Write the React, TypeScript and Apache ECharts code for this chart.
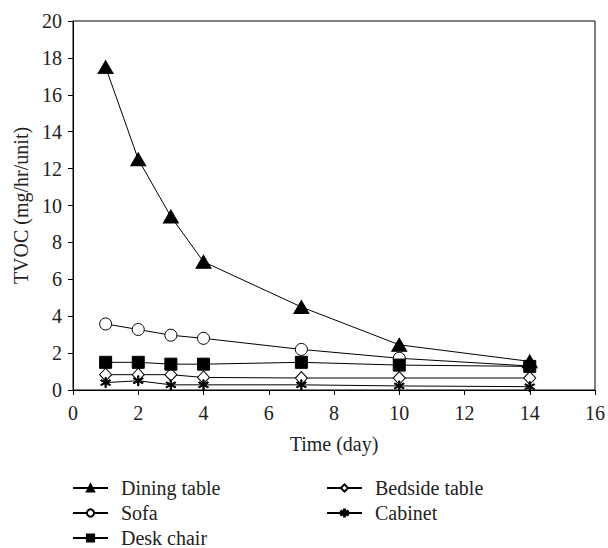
import React, { useEffect, useRef } from "react";
import * as echarts from "echarts";

const days = [1, 2, 3, 4, 7, 10, 14];
const diningTable = [17.5, 12.5, 9.4, 6.95, 4.5, 2.45, 1.55];
const sofa = [3.58, 3.28, 2.97, 2.8, 2.2, 1.72, 1.3];
const deskChair = [1.5, 1.5, 1.4, 1.4, 1.5, 1.35, 1.28];
const bedsideTable = [0.83, 0.83, 0.83, 0.68, 0.65, 0.65, 0.65];
const cabinet = [0.4, 0.5, 0.28, 0.28, 0.28, 0.22, 0.18];

const xTicks = { min: 0, max: 16, interval: 2 };
const yTicks = { min: 0, max: 20, interval: 2 };

const asterisk =
  "path://M-0.6,-5 L0.6,-5 L0.6,5 L-0.6,5 Z M-4.63,-1.98 L-4.03,-3.02 L4.63,1.98 L4.03,3.02 Z M-4.03,3.02 L-4.63,1.98 L4.03,-3.02 L4.63,-1.98 Z";

const FONT = "'Liberation Serif', 'Times New Roman', serif";

function pairs(vals: number[]) {
  return days.map((d, i) => [d, vals[i]]);
}

export default function App() {
  const ref = useRef<HTMLDivElement>(null);
  useEffect(() => {
    if (!ref.current) return;
    const chart = echarts.init(ref.current, null, { renderer: "svg" });
    const lineStyle = { color: "#000", width: 1 };
    const filled = { color: "#000", borderColor: "#000", borderWidth: 1 };
    const open = { color: "#fff", borderColor: "#000", borderWidth: 1 };
    const legendCommon = {
      orient: "vertical" as const,
      itemWidth: 35,
      itemHeight: 9,
      itemGap: 5,
      padding: 0,
      height: 80,
      textStyle: {
        fontFamily: FONT,
        fontSize: 20,
        color: "#222",
        lineHeight: 20,
        padding: [0, 0, 0, 8],
      },
    };
    chart.setOption({
      animation: false,
      backgroundColor: "#fff",
      textStyle: { fontFamily: FONT },
      grid: {
        left: 73,
        right: 10,
        top: 21,
        bottom: 158,
        show: true,
        borderColor: "#000",
        borderWidth: 1,
      },
      xAxis: {
        type: "value",
        ...xTicks,
        name: "Time (day)",
        nameLocation: "middle",
        nameGap: 44,
        nameTextStyle: { fontFamily: FONT, fontSize: 20, color: "#222" },
        axisLine: { show: true, lineStyle: { color: "#000", width: 1 } },
        axisTick: { show: true, inside: false, length: 5, lineStyle: { color: "#000" } },
        axisLabel: { fontFamily: FONT, fontSize: 20, color: "#222", margin: 13 },
        splitLine: { show: false },
      },
      yAxis: {
        type: "value",
        ...yTicks,
        name: "TVOC (mg/hr/unit)",
        nameLocation: "middle",
        nameGap: 38,
        nameTextStyle: { fontFamily: FONT, fontSize: 20, color: "#222" },
        axisLine: { show: true, lineStyle: { color: "#000", width: 1 } },
        axisTick: { show: true, inside: false, length: 5, lineStyle: { color: "#000" } },
        axisLabel: { fontFamily: FONT, fontSize: 20, color: "#222", margin: 11 },
        splitLine: { show: false },
      },
      legend: [
        {
          ...legendCommon,
          left: 72,
          top: 478,
          data: ["Dining table", "Sofa", "Desk chair"],
        },
        {
          ...legendCommon,
          left: 326,
          top: 478,
          data: ["Bedside table", "Cabinet"],
        },
      ],
      series: [
        {
          name: "Dining table",
          type: "line",
          data: pairs(diningTable),
          symbol: "triangle",
          symbolSize: [15, 13],
          lineStyle,
          itemStyle: filled,
          z: 5,
        },
        {
          name: "Sofa",
          type: "line",
          data: pairs(sofa),
          symbol: "circle",
          symbolSize: 12,
          lineStyle,
          itemStyle: open,
          z: 3,
        },
        {
          name: "Desk chair",
          type: "line",
          data: pairs(deskChair),
          symbol: "rect",
          symbolSize: 12,
          lineStyle,
          itemStyle: filled,
          z: 4,
        },
        {
          name: "Bedside table",
          type: "line",
          data: pairs(bedsideTable),
          symbol: "diamond",
          symbolSize: [12, 13],
          lineStyle,
          itemStyle: open,
          z: 3,
        },
        {
          name: "Cabinet",
          type: "line",
          data: pairs(cabinet),
          symbol: asterisk,
          symbolSize: [10, 10],
          lineStyle,
          itemStyle: filled,
          z: 3,
        },
      ],
    });
    return () => chart.dispose();
  }, []);
  return (
    <div
      ref={ref}
      style={{ position: "absolute", left: 0, top: 0, width: 608, height: 548 }}
    />
  );
}
